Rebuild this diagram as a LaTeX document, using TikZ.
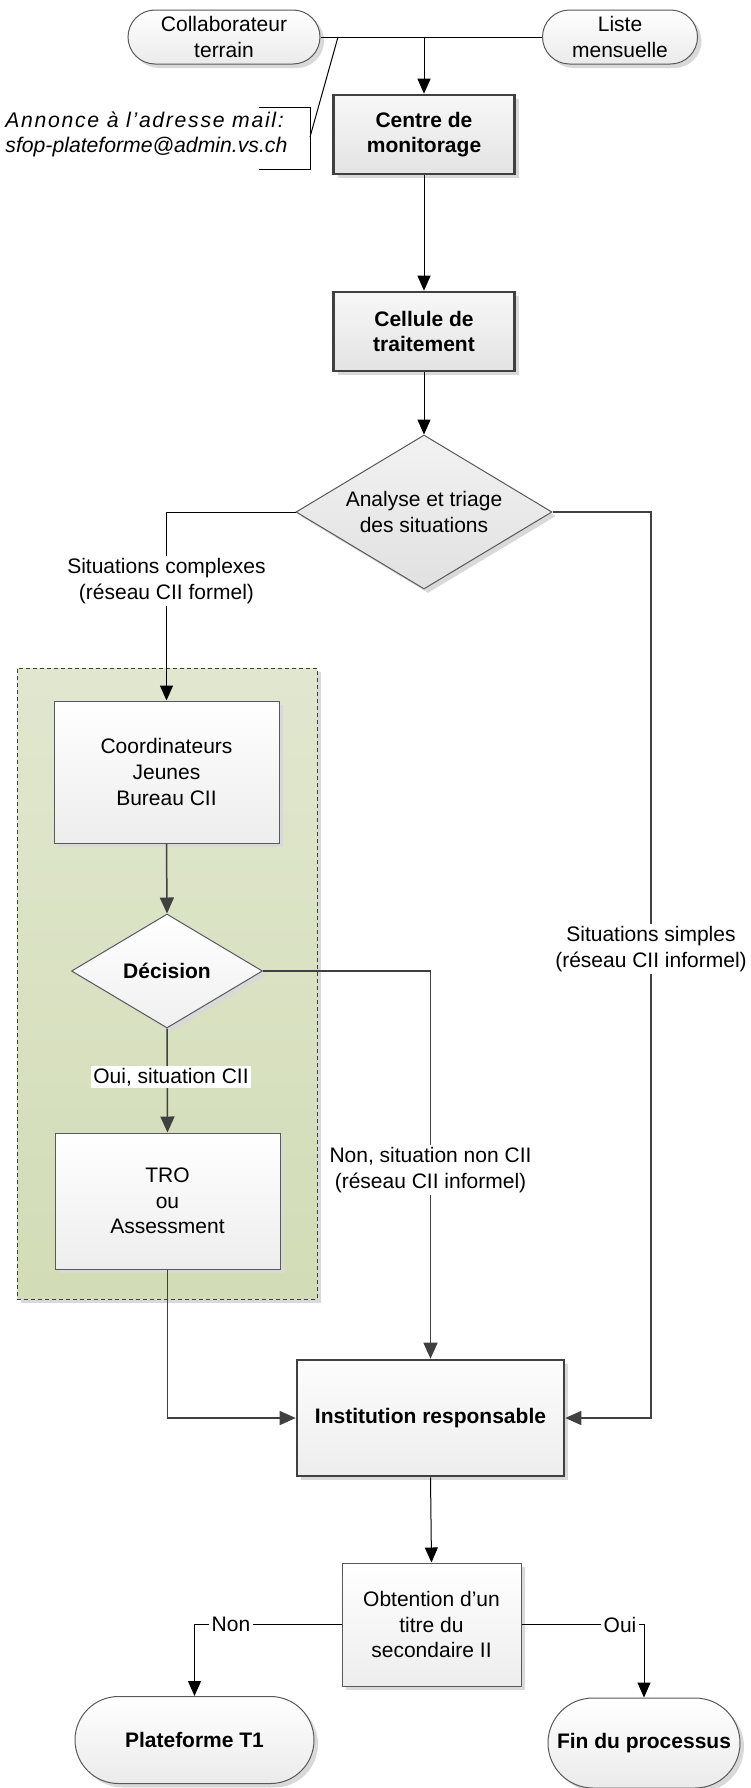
\documentclass[tikz,border=0pt]{standalone}
\usepackage{fontspec}
\setmainfont{Liberation Sans}
\usetikzlibrary{shapes.geometric,arrows.meta,shadows}
\definecolor{ln}{HTML}{404040}
\definecolor{bd}{HTML}{595959}
\definecolor{grpT}{HTML}{E1E7CF}
\definecolor{grpB}{HTML}{D2DCB6}
\definecolor{shd}{HTML}{D9D9D9}
\tikzset{
  base/.style={font=\fontsize{10.5}{12.8}\selectfont, align=center, inner sep=0pt},
  shad/.style={drop shadow={shadow xshift=2pt,shadow yshift=-2pt,fill=shd,opacity=1}},
  pill/.style={base, draw=bd, line width=0.5pt, top color=white, bottom color=black!8, shad},
  mainbox/.style={base, font=\fontsize{10.5}{12.8}\selectfont\bfseries, draw=ln, line width=1.3pt, top color=black!3, bottom color=black!11, shad},
  instbox/.style={base, font=\fontsize{10.5}{12.8}\selectfont\bfseries, draw=ln, line width=1.3pt, top color=black!1, bottom color=black!7, shad},
  stdbox/.style={base, draw=bd, line width=0.5pt, top color=white, bottom color=black!7, shad},
  dia/.style={base, diamond, draw=bd, line width=0.5pt, shad},
  grpbox/.style={draw=ln, line width=0.5pt, dash pattern=on 2pt off 1.5pt, top color=grpT, bottom color=grpB, shad, inner sep=0pt},
  lbl/.style={base, fill=white, inner sep=1.2pt},
  thinln/.style={draw=black, line width=0.5pt},
  ablack/.style={draw=black, line width=0.5pt, -{Triangle[length=7.5pt,width=6.5pt]}},
  aln/.style={draw=ln, line width=0.75pt, -{Triangle[length=8pt,width=7pt]}},
}
\begin{document}
\begin{tikzpicture}[x=0.5pt,y=-0.5pt]
\useasboundingbox (0,0) rectangle (750,1788);
% top sources
\node[pill, minimum width=96pt, minimum height=27pt, rounded corners=13.5pt] (collab) at (224,37) {Collaborateur\\terrain};
\node[pill, minimum width=77.5pt, minimum height=27pt, rounded corners=13.5pt] (liste) at (620,37) {Liste\\mensuelle};
\coordinate (j1) at (424,37);
\coordinate (j2) at (338,37);
\node[mainbox, minimum width=90.5pt, minimum height=39.5pt] (centre) at (424,134.5) {Centre de\\monitorage};
\draw[thinln] (collab.east) -- (liste.west);
\draw[ablack] (j1) -- (centre.north);
% annotation
\node[base, font=\fontsize{10.6}{12.8}\selectfont\itshape, align=left, anchor=west] (annot) at (5,134.5) {{\addfontfeature{LetterSpace=8}Annonce à l’adresse mail:}\\sfop-plateforme@admin.vs.ch};
\coordinate (b1) at (259,107);
\coordinate (b2) at (310,107);
\coordinate (b3) at (310,169);
\coordinate (b4) at (259,169);
\coordinate (bm) at (310,137);
\draw[thinln] (b1) -- (b2) -- (b3) -- (b4);
\draw[thinln] (bm) -- (j2);
% processing
\node[mainbox, minimum width=90.5pt, minimum height=39.5pt] (cellule) at (424,331.5) {Cellule de\\traitement};
\node[dia, minimum width=128pt, minimum height=77pt, shape aspect=1.66, top color=black!5, bottom color=black!12] (analyse) at (424,512) {Analyse et triage\\des situations};
\draw[ablack] (centre.south) -- (cellule.north);
\draw[ablack] (cellule.south) -- (analyse.north);
% group
\node[grpbox, minimum width=150pt, minimum height=315.5pt] (grp) at (167,983.5) {};
\node[stdbox, minimum width=112.5pt, minimum height=71pt] (coord) at (166.5,772) {Coordinateurs\\Jeunes\\Bureau CII};
\node[dia, font=\fontsize{10.5}{12.8}\selectfont\bfseries, minimum width=95.5pt, minimum height=57pt, shape aspect=1.67, top color=white, bottom color=black!6] (dec) at (167,971) {Décision};
\node[stdbox, minimum width=112.5pt, minimum height=68pt] (tro) at (167.5,1201) {TRO\\ou\\Assessment};
% bottom
\node[instbox, minimum width=133.5pt, minimum height=58pt] (inst) at (430.5,1418) {Institution responsable};
\node[stdbox, minimum width=89.5pt, minimum height=61.5pt] (obt) at (431.5,1624.5) {Obtention d’un\\titre du\\secondaire II};
\node[pill, font=\fontsize{10.5}{12.8}\selectfont\bfseries, minimum width=119.5pt, minimum height=43.5pt, rounded corners=21.75pt] (plat) at (194.5,1740) {Plateforme T1};
\node[pill, font=\fontsize{10.5}{12.8}\selectfont\bfseries, minimum width=96pt, minimum height=45pt, rounded corners=22.5pt] (fin) at (644,1743) {Fin du processus};
% connectors
\coordinate (rc) at (651,1418);
\draw[ablack] (analyse.west) -| (coord.north);
\node[lbl] (lc) at (166.5,581) {Situations complexes\\(réseau CII formel)};
\draw[aln] (analyse.east) -| (rc) -- (inst.east);
\node[lbl] (ls) at (651,949) {Situations simples\\(réseau CII informel)};
\draw[aln] (coord.south) -- (dec.north);
\draw[aln] (dec.south) -- (tro.north);
\node[lbl] (lo) at (171,1077) {Oui, situation CII};
\draw[aln] (dec.east) -| (inst.north);
\node[lbl] (ln) at (430.5,1170) {Non, situation non CII\\(réseau CII informel)};
\draw[aln] (tro.south) |- (inst.west);
\draw[ablack] (inst.south) -- (obt.north);
\draw[ablack] (obt.west) -| (plat.north);
\node[lbl] (lnon) at (231,1624.5) {Non};
\draw[ablack] (obt.east) -| (fin.north);
\node[lbl] (loui) at (620,1624.5) {Oui};
\end{tikzpicture}
\end{document}
